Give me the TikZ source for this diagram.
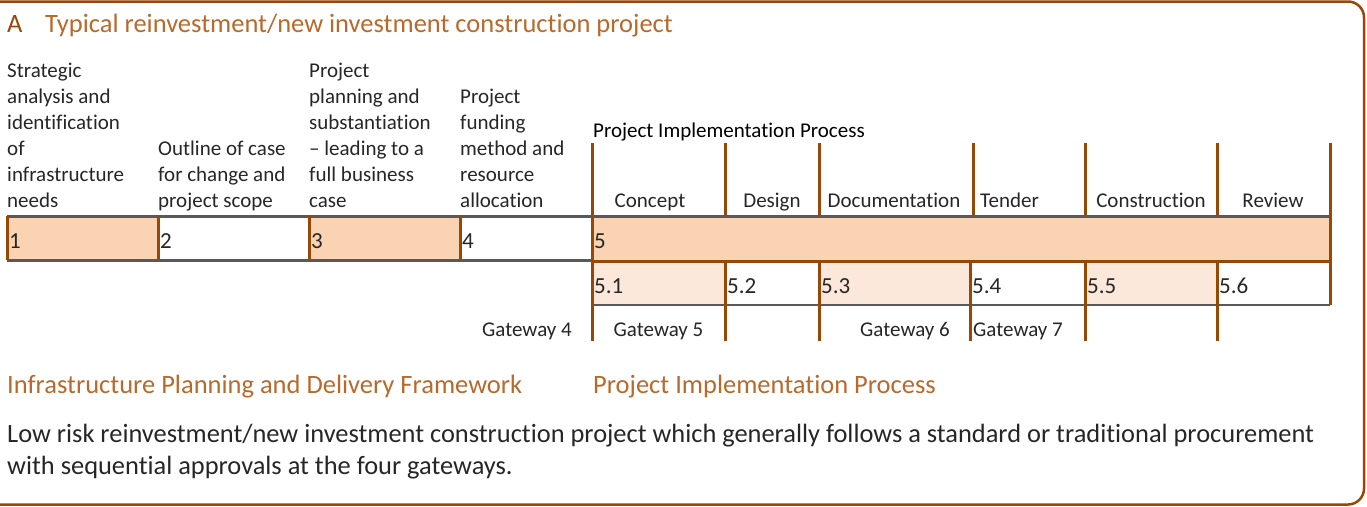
\documentclass[tikz,border=0pt]{standalone}
\usepackage{fontspec}
\setmainfont{Carlito}[Ligatures=NoCommon]
\definecolor{frame}{HTML}{974706}
\definecolor{head}{HTML}{B8692C}
\definecolor{peach}{HTML}{F9D3B2}
\definecolor{pale}{HTML}{FBE8DA}
\definecolor{rulegrey}{HTML}{595959}
\definecolor{ink}{HTML}{262626}
\begin{document}
\begin{tikzpicture}[x=1pt, y=-1pt,
    txt/.style={inner sep=0pt, anchor=base west, text=ink, align=left, font=\fontsize{21}{26}\selectfont},
    num/.style={inner sep=0pt, anchor=base west, text=ink, font=\fontsize{23}{26}\selectfont},
    gate/.style={inner sep=0pt, anchor=base, text=ink, font=\fontsize{21}{26}\selectfont},
    sub/.style={inner sep=0pt, anchor=base west, text=head, font=\fontsize{26.5}{30}\selectfont},
    body/.style={inner sep=0pt, anchor=base west, text=ink, align=left, font=\fontsize{26.4}{32}\selectfont},
    div/.style={frame, line width=3pt},
    bar/.style={rulegrey, line width=3pt}]
\useasboundingbox (0,0) rectangle (1367,506);
\draw[frame, line width=2.5pt, rounded corners=16pt] (0,1.5) -- (1364,1.5) -- (1364,504.5) -- (0,504.5);

\node[sub, text=frame] (tA) at (7,32) {A};
\node[sub] (title) at (45,32) {Typical reinvestment/new investment construction project};

\fill[peach] (7,216) rectangle (158,260);
\fill[peach] (309,216) rectangle (460,260);
\fill[peach] (592,216) rectangle (1330,261);
\fill[pale] (592,261) rectangle (725,305);
\fill[pale] (819,261) rectangle (970,305);
\fill[pale] (1085,261) rectangle (1217,305);

\draw[bar] (7,216.5) -- (1330,216.5);
\draw[bar] (7,260) -- (592,260);
\draw[div] (592,261) -- (1330,261);
\draw[rulegrey, line width=1.5pt] (592,305) -- (1330,305);
\draw[div] (7,216) -- (7,260);
\draw[div] (158,216) -- (158,260);
\draw[div] (309,216) -- (309,260);
\draw[div] (460,216) -- (460,260);
\draw[div] (592,143) -- (592,341);
\draw[div] (725,143) -- (725,216);
\draw[div] (819,143) -- (819,216);
\draw[div] (973,143) -- (973,216);
\draw[div] (1085,143) -- (1085,216);
\draw[div] (1217,143) -- (1217,216);
\draw[div] (1330,143) -- (1330,305);
\draw[div] (725,261) -- (725,341);
\draw[div] (819,261) -- (819,341);
\draw[div] (970,261) -- (970,341);
\draw[div] (1085,261) -- (1085,341);
\draw[div] (1217,261) -- (1217,341);

\node[txt] (s1) at (7,207.5) {Strategic\\analysis and\\identification\\of\\infrastructure\\needs};
\node[txt] (s2) at (158,207.5) {Outline of case\\for change and\\project scope};
\node[txt] (s3) at (309,207.5) {Project\\planning and\\substantiation\\-- leading to a\\full business\\case};
\node[txt] (s4) at (460,207.5) {Project\\funding\\method and\\resource\\allocation};
\node[txt, text=black] (pip) at (593,137) {Project Implementation Process};

\node[gate] (concept) at (650,207.5) {Concept};
\node[gate] (design) at (772,207.5) {Design};
\node[gate] (docu) at (894,207.5) {Documentation};
\node[txt] (tender) at (980,207.5) {Tender};
\node[gate] (constr) at (1151,207.5) {Construction};
\node[gate] (review) at (1273,207.5) {Review};

\node[num] (n1) at (9,248) {1};
\node[num] (n2) at (160,248) {2};
\node[num] (n3) at (311,248) {3};
\node[num] (n4) at (462,248) {4};
\node[num] (n5) at (594,248) {5};
\node[num] (n51) at (594,293) {5.1};
\node[num] (n52) at (727,293) {5.2};
\node[num] (n53) at (821,293) {5.3};
\node[num] (n54) at (972,293) {5.4};
\node[num] (n55) at (1087,293) {5.5};
\node[num] (n56) at (1219,293) {5.6};

\node[gate, anchor=base east] (g4) at (572,336) {Gateway 4};
\node[gate] (g5) at (658.5,336) {Gateway 5};
\node[gate, anchor=base east] (g6) at (950,336) {Gateway 6};
\node[gate, anchor=base west] (g7) at (973,336) {Gateway 7};

\node[sub] (ipdf) at (7,393) {Infrastructure Planning and Delivery Framework};
\node[sub] (pip2) at (593,393) {Project Implementation Process};

\node[body] (desc) at (7,474) {Low risk reinvestment/new investment construction project which generally follows a standard or traditional procurement\\with sequential approvals at the four gateways.};
\end{tikzpicture}
\end{document}
